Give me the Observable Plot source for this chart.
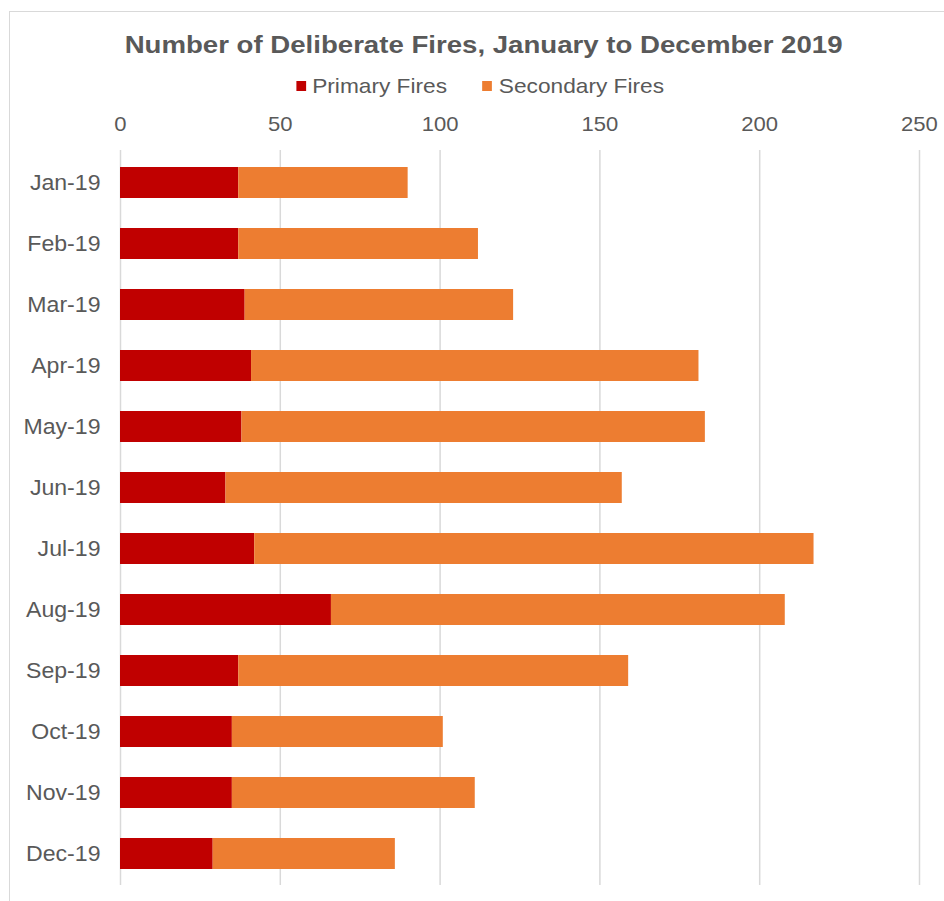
<!DOCTYPE html>
<html>
<head>
<meta charset="utf-8">
<script src="https://cdn.jsdelivr.net/npm/d3@7"></script>
<script src="https://cdn.jsdelivr.net/npm/@observablehq/plot@0.6"></script>
<style>
  body { margin: 0; background: #fff; font-family: Arial, "Liberation Sans", sans-serif; overflow: hidden; }
  #frame { position: absolute; left: 9px; top: 11px; width: 1000px; height: 1000px; border: 1px solid #d9d9d9; box-sizing: border-box; }
  #title { position: absolute; left: 0; top: 30px; width: 967px; text-align: center; font-size: 24px; line-height: 30px; font-weight: bold; color: #595959; transform: scaleX(1.15); transform-origin: 483px 0; white-space: nowrap; }
  #legend { position: absolute; left: 0; top: 73px; width: 960px; display: flex; justify-content: center; gap: 33px; font-size: 21px; line-height: 26px; color: #595959; transform: scaleX(1.08); transform-origin: 480px 0; }
  #legend span.item { display: flex; align-items: center; white-space: nowrap; }
  #legend span.sw { display: inline-block; width: 9px; height: 10px; margin-right: 6px; }
  #chart { position: absolute; left: 0; top: 100px; }
</style>
</head>
<body>
<div id="frame"></div>
<div id="title">Number of Deliberate Fires, January to December 2019</div>
<div id="legend"></div>
<div id="chart"></div>
<script>
// Monthly counts of deliberate fires, 2019
const months = ["Jan-19", "Feb-19", "Mar-19", "Apr-19", "May-19", "Jun-19",
                "Jul-19", "Aug-19", "Sep-19", "Oct-19", "Nov-19", "Dec-19"];
const primaryFires   = [37, 37, 39, 41, 38, 33, 42, 66, 37, 35, 35, 29];
const secondaryFires = [53, 75, 84, 140, 145, 124, 175, 142, 122, 66, 76, 57];
const seriesNames = ["Primary Fires", "Secondary Fires"];
const seriesColors = ["#C00000", "#ED7D31"];
const xTicks = [0, 50, 100, 150, 200, 250];

// Long-format rows for stacking: primary first, then secondary
const rows = [];
months.forEach((m, i) => {
  rows.push({month: m, series: seriesNames[0], value: primaryFires[i]});
  rows.push({month: m, series: seriesNames[1], value: secondaryFires[i]});
});

// Legend
const legend = document.getElementById("legend");
seriesNames.forEach((name, i) => {
  const item = document.createElement("span");
  item.className = "item";
  const sw = document.createElement("span");
  sw.className = "sw";
  sw.style.background = seriesColors[i];
  item.appendChild(sw);
  item.appendChild(document.createTextNode(name));
  legend.appendChild(item);
});

const chart = Plot.plot({
  width: 944,
  height: 801,
  marginTop: 50,
  marginBottom: 16,
  marginLeft: 120,
  marginRight: 25,
  style: {fontFamily: "Arial, 'Liberation Sans', sans-serif", fontSize: "21px", color: "#595959", background: "transparent", overflow: "visible"},
  x: {domain: [0, 250]},
  y: {domain: months, paddingInner: 0.5, paddingOuter: 0.25},
  color: {domain: seriesNames, range: seriesColors},
  marks: [
    Plot.gridX(xTicks, {stroke: "#d9d9d9", strokeOpacity: 1, strokeWidth: 1.5}),
    Plot.axisX({anchor: "top", ticks: xTicks, tickSize: 0, tickPadding: 20, label: null, fill: "#595959", fontSize: 21}),
    Plot.axisY({tickSize: 0, tickPadding: 20, label: null, fill: "#595959", fontSize: 22}),
    Plot.barX(rows, Plot.stackX({x: "value", y: "month", fill: "series", order: null}))
  ]
});

// Slightly wider axis lettering
chart.querySelectorAll("[aria-label='x-axis tick label'] text, [aria-label='y-axis tick label'] text").forEach(t => {
  t.setAttribute("transform", (t.getAttribute("transform") || "") + " scale(1.05,1)");
});
document.getElementById("chart").appendChild(chart);
</script>
</body>
</html>
